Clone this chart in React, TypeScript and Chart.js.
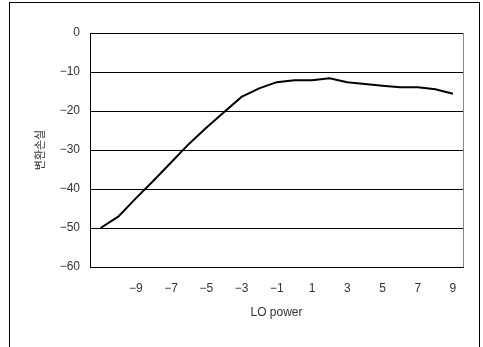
import { useEffect, useRef } from 'react';
import { Chart, registerables } from 'chart.js';

Chart.register(...registerables);

const loPower = [-11, -10, -9, -8, -7, -6, -5, -4, -3, -2, -1, 0, 1, 2, 3, 4, 5, 6, 7, 8, 9];
const conversionLoss = [-50, -47.1, -42.4, -37.9, -33.2, -28.5, -24.3, -20.3, -16.4, -14.2, -12.6, -12.1, -12.1, -11.6, -12.6, -13.1, -13.5, -13.9, -13.9, -14.4, -15.6];
const xTickValues = [-9, -7, -5, -3, -1, 1, 3, 5, 7, 9];
const yTickValues = [0, -10, -20, -30, -40, -50, -60];

const fmt = (v: number) => (v < 0 ? '\u2212' + Math.abs(v) : String(v));

const tickFont = { family: "'Liberation Sans', Arial, sans-serif", size: 12 };

export default function App() {
  const ref = useRef<HTMLCanvasElement>(null);

  useEffect(() => {
    if (!ref.current) return;
    const framePlugin = {
      id: 'frame',
      beforeDraw(chart: any) {
        const ctx = chart.ctx;
        ctx.save();
        ctx.fillStyle = '#fff';
        ctx.fillRect(0, 0, chart.width, chart.height);
        ctx.strokeStyle = '#000';
        ctx.lineWidth = 1;
        ctx.strokeRect(9.5, 2.5, 470, 400);
        ctx.restore();
      },
      afterDraw(chart: any) {
        const { ctx, chartArea } = chart;
        ctx.save();
        ctx.strokeStyle = '#888';
        ctx.lineWidth = 1;
        ctx.beginPath();
        ctx.moveTo(Math.round(chartArea.right) + 0.5, chartArea.top);
        ctx.lineTo(Math.round(chartArea.right) + 0.5, chartArea.bottom);
        ctx.stroke();
        ctx.restore();
      },
    };

    const chart = new Chart(ref.current, {
      type: 'line',
      data: {
        datasets: [
          {
            data: loPower.map((x, i) => ({ x, y: conversionLoss[i] })),
            borderColor: '#000',
            borderWidth: 2,
            pointRadius: 0,
            tension: 0,
            fill: false,
          },
        ],
      },
      options: {
        animation: false,
        responsive: false,
        devicePixelRatio: 1,
        layout: { padding: { top: 33, right: 20, left: 0, bottom: 0 } },
        plugins: { legend: { display: false }, tooltip: { enabled: false } },
        scales: {
          x: {
            type: 'linear',
            min: -11.6,
            max: 9.57,
            afterBuildTicks: (s: any) => {
              s.ticks = xTickValues.map((v) => ({ value: v }));
            },
            afterFit: (s: any) => {
              s.height = 80;
            },
            grid: { display: true, drawOnChartArea: false, drawTicks: false },
            border: { display: true, color: '#000', width: 1 },
            ticks: {
              padding: 14,
              color: '#333',
              font: tickFont,
              autoSkip: false,
              maxRotation: 0,
              callback: (v: any) => fmt(Number(v)),
            },
            title: {
              display: true,
              text: 'LO power',
              color: '#333',
              font: tickFont,
              padding: { top: 0, bottom: 27 },
            },
          },
          y: {
            type: 'linear',
            min: -60,
            max: 0,
            afterBuildTicks: (s: any) => {
              s.ticks = yTickValues.map((v) => ({ value: v }));
            },
            afterFit: (s: any) => {
              s.width = 90;
            },
            grid: { color: '#000', lineWidth: 1, drawTicks: false },
            border: { display: true, color: '#000', width: 1 },
            ticks: {
              padding: 10,
              color: '#333',
              font: tickFont,
              callback: (v: any) => fmt(Number(v)),
            },
            title: {
              display: true,
              text: '변환손실',
              color: '#333',
              font: { family: "'Noto Sans CJK KR', sans-serif", size: 11 },
              padding: { top: 33, bottom: 0 },
            },
          },
        },
      },
      plugins: [framePlugin],
    });
    return () => chart.destroy();
  }, []);

  return (
    <div style={{ position: 'fixed', left: 0, top: 0, width: 483, height: 347 }}>
      <canvas ref={ref} width={483} height={347} style={{ width: 483, height: 347, display: 'block' }} />
    </div>
  );
}
